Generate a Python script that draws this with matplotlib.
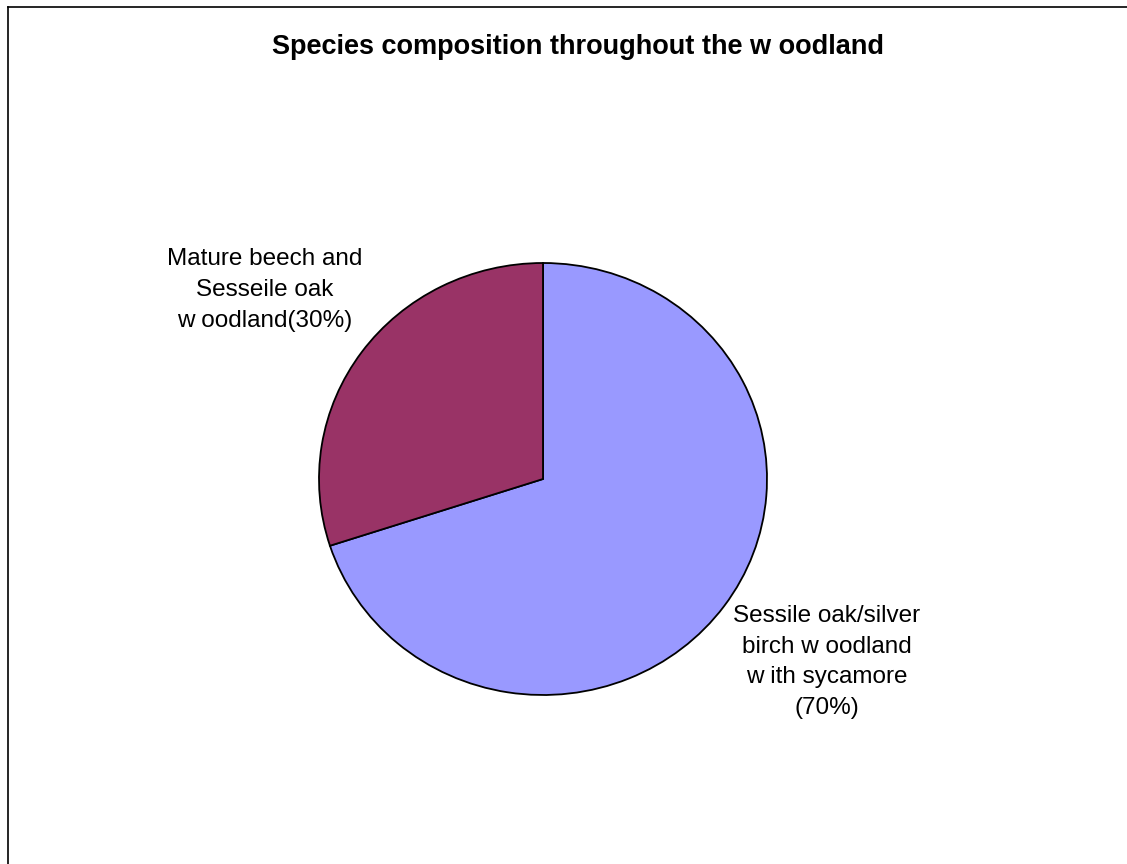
import matplotlib
matplotlib.use('Agg')
import matplotlib.pyplot as plt
from matplotlib.lines import Line2D

# data
categories = ["Sessile oak/silver\nbirch w oodland\nw ith sycamore\n(70%)",
              "Mature beech and\nSesseile oak\nw oodland(30%)"]
shares = [70, 30]
colors = ["#9999FF", "#993366"]
title = "Species composition throughout the w oodland"

plt.rcParams['font.family'] = ['Liberation Sans', 'DejaVu Sans']

W, H = 1127, 864
fig = plt.figure(figsize=(W / 100, H / 100), dpi=100)

# pie is slightly wider than tall in the original
cx, cy, rx, ry = 543, 479, 224, 216
ax = fig.add_axes([(cx - rx) / W, 1 - (cy + ry) / H, 2 * rx / W, 2 * ry / H])
ax.pie(shares, colors=colors, startangle=90, counterclock=False,
       wedgeprops=dict(edgecolor='black', linewidth=1.3))
ax.set_aspect('auto')
ax.set_xlim(-1, 1)
ax.set_ylim(-1, 1)
ax.axis('off')

# labels
fig.text(827 / W, 1 - 662 / H, categories[0], ha='center', va='center',
         fontsize=17.5, linespacing=1.52)
fig.text(265 / W, 1 - 290 / H, categories[1], ha='center', va='center',
         fontsize=17.5, linespacing=1.52)

fig.text(578 / W, 1 - 54 / H, title, ha='center', va='baseline',
         fontsize=19.5, fontweight='bold')

# outer frame (only left and top edges visible)
fig.add_artist(Line2D([7.5 / W, 7.5 / W], [0, 1 - 6.5 / H], color='black', lw=1.2,
                      transform=fig.transFigure))
fig.add_artist(Line2D([7.5 / W, 1], [1 - 6.5 / H, 1 - 6.5 / H], color='black', lw=1.2,
                      transform=fig.transFigure))

fig.savefig('out.png', dpi=100)
